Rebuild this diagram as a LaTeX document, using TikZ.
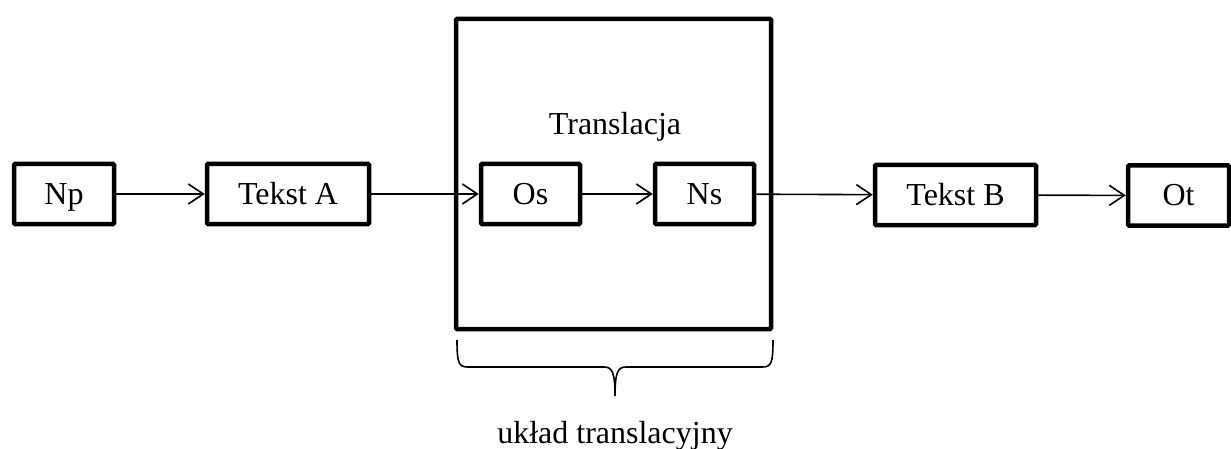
\documentclass[tikz,border=0pt]{standalone}
\usepackage{fontspec}
\setmainfont{Liberation Serif}
\usetikzlibrary{arrows.meta}
\begin{document}
\begin{tikzpicture}[x=1pt,y=-1pt,
  blk/.style={draw, line width=4.5pt, rounded corners=1pt, inner sep=0pt, minimum height=60pt, text height=25pt, text depth=4pt, font=\fontsize{32}{36}\selectfont},
  big/.style={draw, line width=4.5pt, rounded corners=1pt, inner sep=0pt},
  lbl/.style={font=\fontsize{32}{36}\selectfont, inner sep=0pt},
  conn/.style={line width=1.6pt, -{Straight Barb[length=15pt,width=20pt,line width=1.6pt]}},
  brc/.style={line width=1.6pt}]
\useasboundingbox (0,0) rectangle (1231,449);
\node[big, minimum width=315pt, minimum height=310pt] (T) at (613.5,174) {};
\node[blk, minimum width=100pt] (Np) at (64,194) {Np};
\node[blk, minimum width=162pt] (A) at (288,194) {Tekst A};
\node[blk, minimum width=99pt] (Os) at (530.5,194) {Os};
\node[blk, minimum width=99pt] (Ns) at (704.5,194) {Ns};
\node[blk, minimum width=161pt] (B) at (955.5,195) {Tekst B};
\node[blk, minimum width=101pt] (Ot) at (1178.5,195.5) {Ot};
\node[lbl, anchor=base] (tr) at (615,135) {Translacja};
\node[lbl, anchor=base] (ut) at (615,443) {układ translacyjny};
\draw[conn] (Np) -- (A);
\draw[conn] (A) -- (Os);
\draw[conn] (Os) -- (Ns);
\draw[conn] (Ns) -- (B);
\draw[conn] (B) -- (Ot);
\coordinate (bl) at (457,340);
\coordinate (br) at (773,340);
\coordinate (bt) at (615,396);
\draw[brc] (bl) .. controls (457,364) and (459,367) .. (468,367) -- (604,367)
  .. controls (612,367) and (615,372) .. (bt)
  .. controls (615,372) and (618,367) .. (626,367) -- (762,367)
  .. controls (771,367) and (773,364) .. (br);
\end{tikzpicture}
\end{document}
